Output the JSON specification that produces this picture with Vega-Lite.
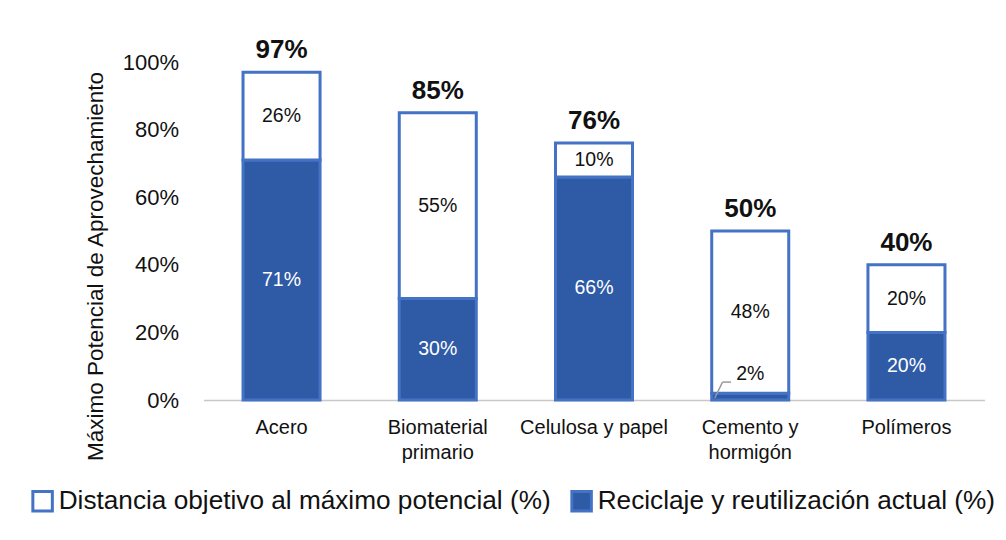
{
  "$schema": "https://vega.github.io/schema/vega-lite/v6.json",
  "width": 781,
  "height": 338,
  "autosize": {"type": "none"},
  "padding": {"left": 203.5, "top": 62, "right": 21.5, "bottom": 140},
  "background": "white",
  "config": {
    "view": {"stroke": null},
    "font": "Liberation Sans",
    "text": {"font": "Liberation Sans"}
  },
  "data": {
    "values": [
      {"material": "Acero", "serie": "Reciclaje y reutilización actual (%)", "valor": 71},
      {"material": "Acero", "serie": "Distancia objetivo al máximo potencial (%)", "valor": 26},
      {"material": "Biomaterial primario", "serie": "Reciclaje y reutilización actual (%)", "valor": 30},
      {"material": "Biomaterial primario", "serie": "Distancia objetivo al máximo potencial (%)", "valor": 55},
      {"material": "Celulosa y papel", "serie": "Reciclaje y reutilización actual (%)", "valor": 66},
      {"material": "Celulosa y papel", "serie": "Distancia objetivo al máximo potencial (%)", "valor": 10},
      {"material": "Cemento y hormigón", "serie": "Reciclaje y reutilización actual (%)", "valor": 2},
      {"material": "Cemento y hormigón", "serie": "Distancia objetivo al máximo potencial (%)", "valor": 48},
      {"material": "Polímeros", "serie": "Reciclaje y reutilización actual (%)", "valor": 20},
      {"material": "Polímeros", "serie": "Distancia objetivo al máximo potencial (%)", "valor": 20}
    ]
  },
  "encoding": {
    "x": {
      "field": "material",
      "type": "nominal",
      "sort": null,
      "scale": {"paddingInner": 0.507, "paddingOuter": 0.253},
      "axis": {
        "title": null,
        "labelAngle": 0,
        "labelFontSize": 20,
        "labelColor": "#111111",
        "labelPadding": 17,
        "labelLineHeight": 25,
        "ticks": false,
        "domainColor": "#c8c8c8",
        "domainWidth": 1.5,
        "labelExpr": "datum.value == 'Biomaterial primario' ? ['Biomaterial', 'primario'] : datum.value == 'Cemento y hormigón' ? ['Cemento y', 'hormigón'] : datum.label"
      }
    }
  },
  "layer": [
    {
      "mark": {"type": "bar", "stroke": "#4472c4", "strokeWidth": 3},
      "encoding": {
        "y": {
          "field": "valor",
          "type": "quantitative",
          "stack": "zero",
          "scale": {"domain": [0, 100]},
          "axis": {
            "title": "Máximo Potencial de Aprovechamiento",
            "titleFontSize": 22.5,
            "titleFontWeight": "normal",
            "titleColor": "#111111",
            "titlePadding": 15,
            "titleY": 204,
            "labelFontSize": 22,
            "labelColor": "#111111",
            "labelPadding": 25,
            "values": [0, 20, 40, 60, 80, 100],
            "labelExpr": "datum.value + '%'",
            "grid": false,
            "ticks": false,
            "domain": false
          }
        },
        "fill": {
          "field": "serie",
          "type": "nominal",
          "scale": {
            "domain": ["Distancia objetivo al máximo potencial (%)", "Reciclaje y reutilización actual (%)"],
            "range": ["#ffffff", "#2e5aa6"]
          },
          "legend": {
            "title": null,
            "orient": "none",
            "direction": "horizontal",
            "legendX": -174,
            "legendY": 426,
            "symbolType": "square",
            "symbolSize": 380,
            "symbolStrokeColor": "#4472c4",
            "symbolStrokeWidth": 3,
            "labelFontSize": 26.2,
            "labelColor": "#111111",
            "labelOffset": 3,
            "columnPadding": 14,
            "labelLimit": 700
          }
        },
        "order": {"field": "serie", "sort": "descending"}
      }
    },
    {
      "transform": [
        {"stack": "valor", "groupby": ["material"], "as": ["v0", "v1"], "sort": [{"field": "serie", "order": "descending"}]},
        {"calculate": "(datum.v0 + datum.v1) / 2", "as": "mid"},
        {"calculate": "datum.valor + '%'", "as": "etiqueta"},
        {"filter": "datum.valor > 5"}
      ],
      "mark": {"type": "text", "fontSize": 19.5, "baseline": "middle"},
      "encoding": {
        "y": {"field": "mid", "type": "quantitative"},
        "text": {"field": "etiqueta", "type": "nominal"},
        "color": {
          "condition": {"test": "datum.serie == 'Reciclaje y reutilización actual (%)'", "value": "#ffffff"},
          "value": "#111111"
        }
      }
    },
    {
      "transform": [
        {"filter": "datum.valor <= 5"},
        {"calculate": "datum.valor + '%'", "as": "etiqueta"}
      ],
      "mark": {"type": "text", "fontSize": 19.5, "baseline": "middle", "dy": -19, "color": "#111111"},
      "encoding": {
        "y": {"field": "valor", "type": "quantitative"},
        "text": {"field": "etiqueta", "type": "nominal"}
      }
    },
    {
      "transform": [
        {"filter": "datum.valor <= 5"}
      ],
      "mark": {"type": "rule", "color": "#9a9a9a", "strokeWidth": 1.5},
      "encoding": {
        "x": {"field": "material", "type": "nominal", "sort": null, "bandPosition": 0.04},
        "x2": {"field": "material", "bandPosition": 0.14},
        "y": {"datum": 0.6},
        "y2": {"datum": 5.3}
      }
    },
    {
      "transform": [
        {"filter": "datum.valor <= 5"}
      ],
      "mark": {"type": "rule", "color": "#9a9a9a", "strokeWidth": 1.5},
      "encoding": {
        "x": {"field": "material", "type": "nominal", "sort": null, "bandPosition": 0.14},
        "x2": {"field": "material", "bandPosition": 0.25},
        "y": {"datum": 5.3}
      }
    },
    {
      "transform": [
        {"aggregate": [{"op": "sum", "field": "valor", "as": "total"}], "groupby": ["material"]},
        {"calculate": "datum.total + '%'", "as": "etiqueta"}
      ],
      "mark": {"type": "text", "fontSize": 26, "fontWeight": "bold", "baseline": "alphabetic", "dy": -14, "color": "#111111"},
      "encoding": {
        "y": {"field": "total", "type": "quantitative"},
        "text": {"field": "etiqueta", "type": "nominal"}
      }
    }
  ]
}
